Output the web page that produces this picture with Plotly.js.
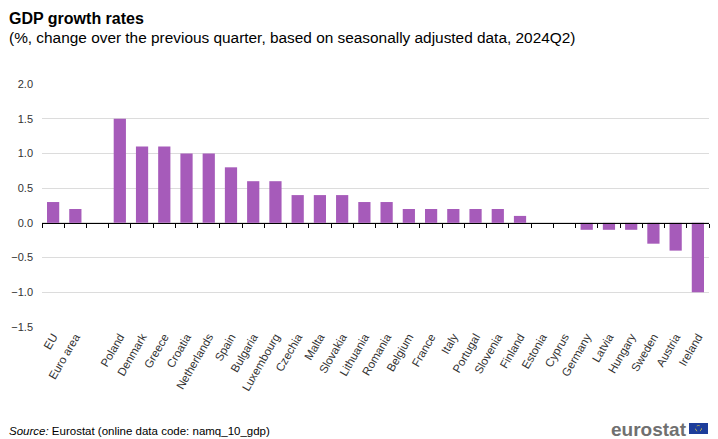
<!DOCTYPE html>
<html>
<head>
<meta charset="utf-8">
<script src="https://cdn.plot.ly/plotly-3.0.1.min.js"></script>
<style>html,body{margin:0;padding:0;background:#fff;}#chart{width:718px;height:439px;}</style>
</head>
<body>
<div id="chart"></div>
<script>
const categories = ["EU", "Euro area", " ", "Poland", "Denmark", "Greece", "Croatia", "Netherlands", "Spain", "Bulgaria", "Luxembourg", "Czechia", "Malta", "Slovakia", "Lithuania", "Romania", "Belgium", "France", "Italy", "Portugal", "Slovenia", "Finland", "Estonia", "Cyprus", "Germany", "Latvia", "Hungary", "Sweden", "Austria", "Ireland"];
const growth = [0.3, 0.2, null, 1.5, 1.1, 1.1, 1.0, 1.0, 0.8, 0.6, 0.6, 0.4, 0.4, 0.4, 0.3, 0.3, 0.2, 0.2, 0.2, 0.2, 0.2, 0.1, 0.0, 0.0, -0.1, -0.1, -0.1, -0.3, -0.4, -1.0];
const yTicks = [-1.5, -1.0, -0.5, 0.0, 0.5, 1.0, 1.5, 2.0];

const FONT = "Arial, 'Liberation Sans', sans-serif";
const yMin = -1.5, yMax = 2.0;
const n = categories.length;

const traces = [
  {
    type: 'bar', x: categories, y: growth, xaxis: 'x', yaxis: 'y',
    marker: {color: '#a65bba'}, width: 0.55, hoverinfo: 'x+y'
  },
  {
    type: 'scatter', mode: 'none', x: categories, y: growth, xaxis: 'x2', yaxis: 'y',
    hoverinfo: 'skip', showlegend: false
  }
];

const layout = {
  width: 718, height: 439,
  margin: {l: 42, r: 9, t: 84, b: 112},
  paper_bgcolor: '#fff', plot_bgcolor: '#fff',
  showlegend: false,
  font: {family: FONT, color: '#333', size: 11},
  xaxis: {
    type: 'category', categoryorder: 'array', categoryarray: categories,
    range: [-0.5, n - 0.5], showgrid: false, showline: false, zeroline: false,
    ticks: '', tickangle: -60, tickfont: {family: FONT, size: 11.5, color: '#333'},
    automargin: false
  },
  xaxis2: {
    type: 'category', categoryorder: 'array', categoryarray: categories,
    range: [-0.5, n - 0.5], overlaying: 'x', anchor: 'free',
    position: (0 - yMin) / (yMax - yMin),
    showline: true, linecolor: '#000', linewidth: 1,
    ticks: 'outside', tickson: 'boundaries', ticklen: 4, tickcolor: '#000', tickwidth: 1,
    showticklabels: false, showgrid: false, zeroline: false
  },
  yaxis: {
    range: [yMin, yMax], tickvals: yTicks, tickformat: '.1f',
    showgrid: true, gridcolor: '#dcdcdc', gridwidth: 1,
    zeroline: false, showline: false, ticks: '', ticklabelstandoff: 8,
    tickfont: {family: FONT, size: 11, color: '#333'}, automargin: false
  },
  annotations: [
    {xref: 'paper', yref: 'paper', x: -35/667, y: 1 + 66/243, xanchor: 'left', yanchor: 'middle',
     text: '<b>GDP growth rates</b>', showarrow: false, font: {family: FONT, size: 16, color: '#000'}},
    {xref: 'paper', yref: 'paper', x: -35/667, y: 1 + 46/243, xanchor: 'left', yanchor: 'middle',
     text: '(%, change over the previous quarter, based on seasonally adjusted data, 2024Q2)', showarrow: false,
     font: {family: FONT, size: 15.4, color: '#000'}},
    {xref: 'paper', yref: 'paper', x: -35/667, y: -(104/243), xanchor: 'left', yanchor: 'middle',
     text: '<i>Source:</i> Eurostat (online data code: namq_10_gdp)', showarrow: false,
     font: {family: FONT, size: 11.5, color: '#000'}},
    {xref: 'paper', yref: 'paper', x: 1 - 20/667, y: -(102/243), xanchor: 'right', yanchor: 'middle',
     text: '<b>eurostat</b>', showarrow: false, font: {family: FONT, size: 19, color: '#707070'}}
  ],
  shapes: [
    {type: 'rect', xref: 'paper', yref: 'paper', x0: 1 - 20/667, x1: 1 - 1/667, y0: -(107/243), y1: -(96/243),
     fillcolor: '#1d3d9a', line: {width: 0}},
    {type: 'circle', xref: 'paper', yref: 'paper', x0: 1 - 13.5/667, x1: 1 - 7.5/667, y0: -(104.5/243), y1: -(98.5/243),
     fillcolor: 'rgba(0,0,0,0)', line: {width: 0.8, color: '#d9c84a', dash: 'dot'}}
  ]
};

Plotly.newPlot('chart', traces, layout, {displayModeBar: false, staticPlot: true});
</script>
</body>
</html>
